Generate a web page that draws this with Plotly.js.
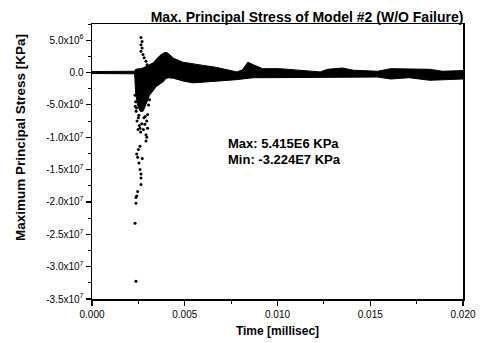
<!DOCTYPE html>
<html>
<head>
<meta charset="utf-8">
<script src="https://cdn.plot.ly/plotly-3.0.1.min.js"></script>
<style>html,body{margin:0;padding:0;background:#fff;}#chart{width:482px;height:343px;}</style>
</head>
<body>
<div id="chart"></div>
<script>
// Envelope of the dense response band (time in millisec, stress in KPa)
var bandTime  = [0, 0.00230, 0.00235, 0.00245, 0.00260, 0.00275, 0.00290, 0.00310, 0.00330, 0.00345, 0.00365, 0.00385, 0.00395, 0.00410, 0.00440, 0.00490, 0.00545, 0.00600, 0.00670, 0.00720, 0.00780, 0.00810, 0.00840, 0.00870, 0.00920, 0.01010, 0.01140, 0.01230, 0.01270, 0.01350, 0.01410, 0.01540, 0.01610, 0.01710, 0.01820, 0.01890, 0.02000];
var bandUpper = [0.15e6, 0.2e6, 0.5e6, 0.5e6, 0.6e6, 0.7e6, 0.9e6, 1.2e6, 1.5e6, 2.0e6, 2.6e6, 3.0e6, 3.1e6, 3.0e6, 2.2e6, 1.6e6, 1.3e6, 1.1e6, 0.8e6, 0.5e6, 0.1e6, 0.4e6, 1.6e6, 1.2e6, 0.6e6, 0.6e6, 0.35e6, 0.1e6, 0.5e6, 0.7e6, 0.35e6, 0.2e6, 0.6e6, 0.6e6, 0.5e6, 0.2e6, 0.3e6];
var bandLower = [-0.15e6, -0.2e6, -3.0e6, -5.0e6, -6.0e6, -6.0e6, -5.0e6, -3.5e6, -2.8e6, -2.2e6, -1.8e6, -1.4e6, -1.0e6, -0.8e6, -0.9e6, -1.3e6, -1.6e6, -1.5e6, -1.3e6, -1.2e6, -1.1e6, -1.0e6, -0.9e6, -0.8e6, -0.8e6, -0.8e6, -0.8e6, -0.7e6, -0.7e6, -0.8e6, -0.8e6, -0.7e6, -1.0e6, -0.8e6, -1.2e6, -1.1e6, -1.0e6];

// Isolated points of the transient spike
var spikeTime  = [0.00264, 0.00270, 0.00264, 0.00270, 0.00264, 0.00275, 0.00281, 0.00291, 0.00297, 0.00302,
                  0.00240, 0.00250, 0.00285, 0.00300, 0.00245, 0.00235, 0.00238, 0.00243, 0.00255, 0.00268, 0.00280, 0.00295, 0.00305, 0.00310, 0.00232, 0.00248, 0.00262, 0.00287, 0.00253, 0.00233,
                  0.00259, 0.00277, 0.00300, 0.00291, 0.00295, 0.00291, 0.00259, 0.00250, 0.00241, 0.00246, 0.00271, 0.00253, 0.00259, 0.00264, 0.00264, 0.00264, 0.00246, 0.00241, 0.00237, 0.00237, 0.00232, 0.00237];
var spikeValue = [5.415e6, 4.8e6, 4.3e6, 3.8e6, 3.3e6, 2.8e6, 2.3e6, 1.75e6, 1.2e6, 0.7e6,
                  -5.5e6, -7.0e6, -8.0e6, -6.5e6, -3.0e6, -4.5e6, -6.0e6, -7.5e6, -8.2e6, -7.9e6, -7.0e6, -7.5e6, -5.0e6, -4.2e6, -3.5e6, -8.8e6, -9.2e6, -6.8e6, -6.6e6, -5.2e6,
                  -8.6e6, -8.8e6, -8.6e6, -9.6e6, -10.0e6, -10.6e6, -11.4e6, -11.9e6, -12.6e6, -13.1e6, -13.3e6, -14.0e6, -15.0e6, -15.7e6, -16.3e6, -17.3e6, -18.4e6, -19.1e6, -19.3e6, -20.2e6, -23.3e6, -32.24e6];

var xTickVals = [0, 0.005, 0.010, 0.015, 0.020];
var xTickText = ["0.000", "0.005", "0.010", "0.015", "0.020"];
var yTickVals = [5e6, 0, -5e6, -1e7, -1.5e7, -2e7, -2.5e7, -3e7, -3.5e7];
var yTickText = ["5.0x10<sup>6</sup>", "0.0", "-5.0x10<sup>6</sup>", "-1.0x10<sup>7</sup>", "-1.5x10<sup>7</sup>", "-2.0x10<sup>7</sup>", "-2.5x10<sup>7</sup>", "-3.0x10<sup>7</sup>", "-3.5x10<sup>7</sup>"];

var FONT = "Liberation Sans, Arial, sans-serif";

var traces = [
  {x: bandTime, y: bandLower, type: "scatter", mode: "lines",
   line: {color: "#000", width: 1}, hoverinfo: "skip", showlegend: false},
  {x: bandTime, y: bandUpper, type: "scatter", mode: "lines", fill: "tonexty",
   fillcolor: "#000", line: {color: "#000", width: 1}, hoverinfo: "skip", showlegend: false},
  {x: spikeTime, y: spikeValue, type: "scatter", mode: "markers",
   marker: {color: "#000", size: 3}, showlegend: false}
];

var axisCommon = {
  showgrid: false, zeroline: false, showline: true, linecolor: "#000", linewidth: 1.5,
  mirror: true, ticks: "outside", ticklen: 5, tickwidth: 1.2, tickcolor: "#000",
  tickfont: {family: FONT, size: 10, color: "#000"}
};

var layout = {
  width: 482, height: 343,
  margin: {l: 92, r: 19, t: 24, b: 44},
  paper_bgcolor: "#fff", plot_bgcolor: "#fff",
  showlegend: false,
  title: {text: "<b>Max. Principal Stress of Model #2 (W/O Failure)</b>",
          font: {family: FONT, size: 14, color: "#000"},
          x: 307 / 482, xanchor: "center", xref: "container",
          y: 1 - 17 / 343, yanchor: "middle", yref: "container"},
  xaxis: Object.assign({}, axisCommon, {
    range: [0, 0.02], tickmode: "array", tickvals: xTickVals, ticktext: xTickText,
    minor: {ticks: "outside", ticklen: 3, tickwidth: 1, tickcolor: "#000", tick0: 0.0025, dtick: 0.005},
    title: {text: "<b>Time [millisec]</b>", font: {family: FONT, size: 12, color: "#000"}, standoff: 8}
  }),
  yaxis: Object.assign({}, axisCommon, {
    range: [-3.5e7, 7.5e6], tickmode: "array", tickvals: yTickVals, ticktext: yTickText,
    minor: {ticks: "outside", ticklen: 3, tickwidth: 1, tickcolor: "#000", tick0: 2.5e6, dtick: 5e6}
  }),
  annotations: [
    {text: "<b>Maximum Principal Stress [KPa]</b>", textangle: -90,
     xref: "paper", yref: "paper", x: (20 - 92) / 371, y: (299 - 138) / 275,
     xanchor: "center", yanchor: "middle", showarrow: false,
     font: {family: FONT, size: 13.5, color: "#000"}},
    {text: "<b>Max: 5.415E6 KPa</b>", xref: "paper", yref: "paper",
     x: (226 - 92) / 371, y: (299 - 143) / 275, xanchor: "left", yanchor: "middle",
     showarrow: false, font: {family: FONT, size: 13, color: "#000"}},
    {text: "<b>Min: -3.224E7 KPa</b>", xref: "paper", yref: "paper",
     x: (226 - 92) / 371, y: (299 - 159) / 275, xanchor: "left", yanchor: "middle",
     showarrow: false, font: {family: FONT, size: 13, color: "#000"}}
  ]
};

Plotly.newPlot("chart", traces, layout, {staticPlot: true, displayModeBar: false});
</script>
</body>
</html>
